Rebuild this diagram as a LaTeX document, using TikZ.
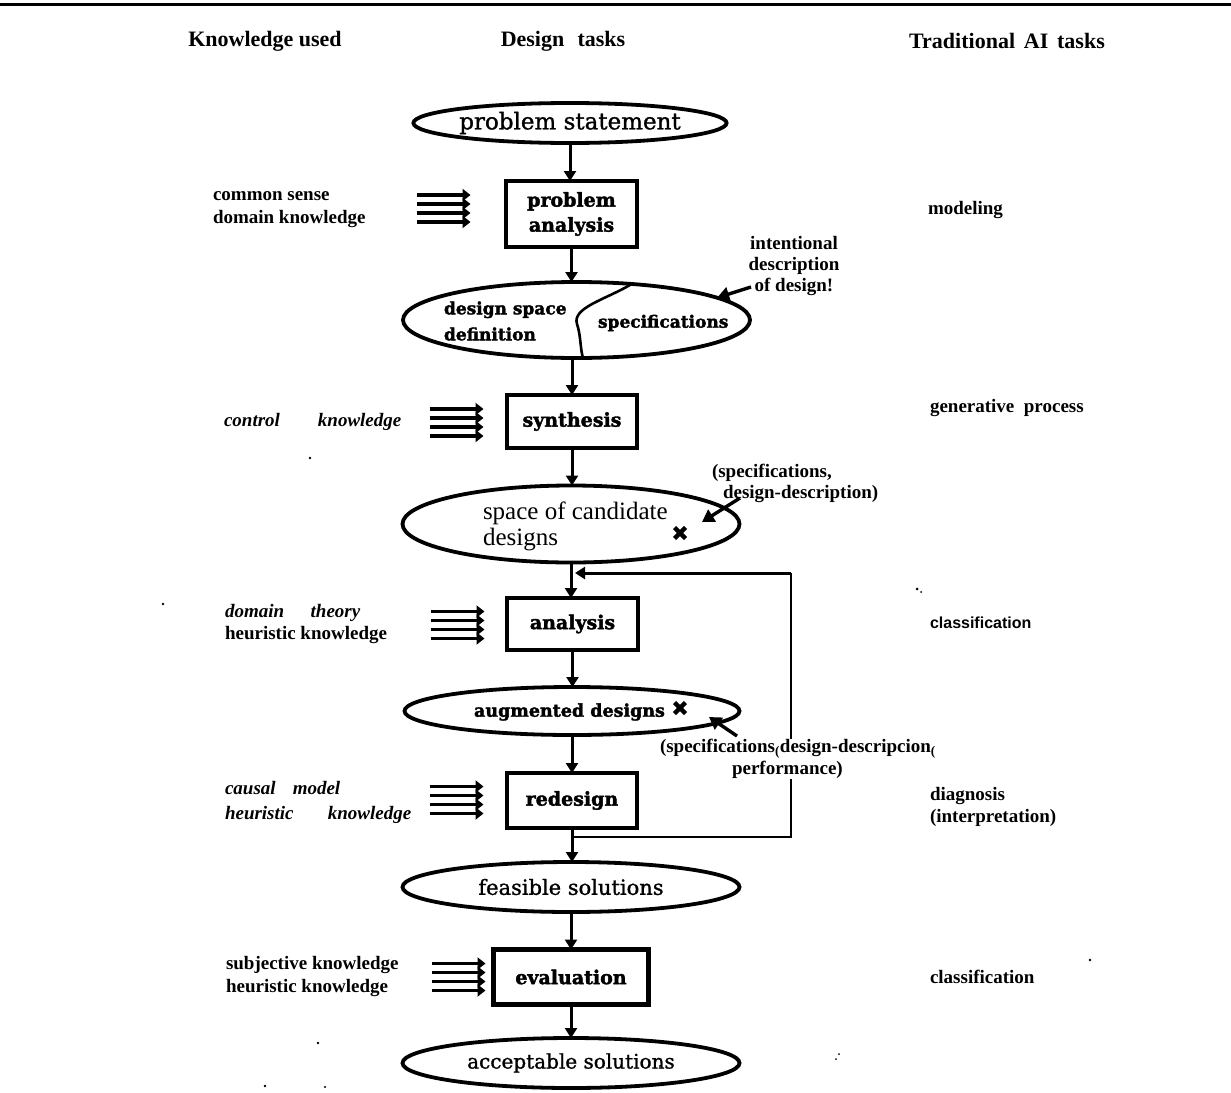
\documentclass[tikz,border=0pt]{standalone}
\usepackage{fontspec}
\setmainfont{Liberation Serif}
\newfontfamily\heavyfont{DejaVu Serif Bold}[FakeBold=2]
\newfontfamily\medfont{DejaVu Serif}[FakeBold=1.2]
\newfontfamily\sansfont{Liberation Sans}
\usetikzlibrary{shapes.geometric,arrows.meta,calc}

\begin{document}
\begin{tikzpicture}[x=1pt,y=-1pt,
  every node/.style={inner sep=0pt, outer sep=0pt},
  flow/.style={line width=3pt,-{Triangle[width=12pt,length=10pt]}},
  feed/.style={line width=2.8pt},
  annot/.style={line width=3.4pt,-{Triangle[width=14pt,length=12pt]}},
  taskbox/.style={draw, rectangle, line width=4.4pt, align=center,
    font=\heavyfont\fontsize{19}{25}\selectfont},
  state/.style={draw, ellipse, line width=3.8pt, align=center},
  statereg/.style={state, font=\medfont\fontsize{21}{24}\selectfont},
  statebold/.style={state, font=\heavyfont\fontsize{17.5}{22}\selectfont},
  hdr/.style={font=\bfseries\fontsize{22}{25}\selectfont},
  lbl/.style={font=\bfseries\fontsize{19}{23}\selectfont, align=left, anchor=west},
  note/.style={font=\bfseries\fontsize{19}{21}\selectfont},
  xmark/.style={minimum size=11pt},
  cross/.style={line width=4.4pt},
  speck/.style={fill=black, draw=none},
  feeds/.pic={
    \foreach \dy in {-13.5,-4.5,4.5,13.5}
      \draw[line width=3.2pt,-{Triangle[width=12pt,length=8pt]}] (-27,\dy) -- (27,\dy);
  }
]
\useasboundingbox (0,0) rectangle (1231,1092);

% top rule
\draw[line width=3pt] (0,4) -- (1231,4);

% column headings
\node[hdr] (hknow) at (265,41) {Knowledge used};
\node[hdr] (hdes)  at (563,41) {Design\hspace{0.6em}tasks};
\node[hdr] (htrad) at (1007,41) {Traditional\hspace{0.4em}AI\hspace{0.4em}tasks};

% design process column
\node[statereg, minimum width=259pt, minimum height=40pt, font=\medfont\fontsize{23}{26}\selectfont]
  (ps) at (570,123) {problem statement};
\node[taskbox, minimum width=131pt, minimum height=66pt] (pa) at (571.5,214) {problem\\analysis};
\node[state, minimum width=347pt, minimum height=76pt] (dss) at (576.5,320) {};
\node[taskbox, minimum width=130pt, minimum height=53pt] (syn) at (572,421.5) {synthesis};
\node[state, minimum width=337pt, minimum height=77pt] (cand) at (571,524) {};
\node[taskbox, minimum width=131pt, minimum height=52pt] (ana) at (572.5,624) {analysis};
\node[statebold, minimum width=335pt, minimum height=48pt] (aug) at (572,711) {};
\node[taskbox, minimum width=130pt, minimum height=55pt] (red) at (572,800.5) {redesign};
\node[statereg, minimum width=337pt, minimum height=50pt] (feas) at (571,887) {feasible solutions};
\node[taskbox, minimum width=155pt, minimum height=55pt] (eva) at (571,977) {evaluation};
\node[statereg, minimum width=337pt, minimum height=50pt, font=\medfont\fontsize{20}{24}\selectfont]
  (acc) at (571,1063) {acceptable solutions};

% split design space ellipse
\draw[line width=2.6pt] (630,285) .. controls (604,300) and (572,308) .. (577,324)
      .. controls (581,336) and (580,348) .. (583,358);
\node[font=\heavyfont\fontsize{17}{26}\selectfont, align=left, anchor=west]
  (dsd) at (444,321) {design space\\definition};
\node[font=\heavyfont\fontsize{17}{22}\selectfont, anchor=west]
  (spec) at (598,323) {specifications};

% candidate designs text
\node[font=\fontsize{25}{26}\selectfont, align=left, anchor=west] (candtxt) at (483,526)
  {space of candidate\\designs};

% augmented designs text
\node[font=\heavyfont\fontsize{17.5}{22}\selectfont] (augtxt) at (569.5,712) {augmented designs};

% main flow
\draw[flow] (ps.south) -- (ps.south |- pa.north);
\draw[flow] (pa.south) -- (pa.south |- dss.north);
\draw[flow] (syn.north |- dss.south) -- (syn.north);
\draw[flow] (syn.south) -- (syn.south |- cand.north);
\draw[flow] (cand.south) -- (cand.south |- ana.north);
\draw[flow] (ana.south) -- (ana.south |- aug.north);
\draw[flow] (aug.south) -- (aug.south |- red.north);
\draw[flow] (red.south) -- (red.south |- feas.north);
\draw[flow] (feas.south) -- (feas.south |- eva.north);
\draw[flow] (eva.south) -- (eva.south |- acc.north);

% feedback loop from redesign back to analysis
\coordinate (fbr) at (791,837);
\coordinate (fbt) at (791,573);
\draw[feed] (red.south |- fbr) -- (fbr) -- (fbt);
\draw[flow] (fbt) -- ([xshift=4pt]cand.south |- fbt);

% knowledge inputs
\pic at (443.5,208.5) {feeds};
\pic at (456.5,422.5) {feeds};
\pic at (457.5,625) {feeds};
\pic at (456.5,800) {feeds};
\pic at (458.5,977) {feeds};

% knowledge used
\node[lbl] (kpa) at (213,210) {common sense\\domain knowledge};
\node[lbl] (ksyn) at (224,422) {\itshape control\hspace{2em}knowledge};
\node[lbl, font=\bfseries\fontsize{19}{22}\selectfont] (kana) at (225,624)
  {\itshape domain\hspace{1.4em}theory\\heuristic knowledge};
\node[lbl, font=\bfseries\itshape\fontsize{19}{25}\selectfont] (kred) at (225,802)
  {causal\hspace{0.9em}model\\heuristic\hspace{1.8em}knowledge};
\node[lbl] (keva) at (226,976) {subjective knowledge\\heuristic knowledge};

% traditional AI tasks
\node[lbl] (tpa) at (928,210) {modeling};
\node[lbl] (tsyn) at (930,408) {generative\hspace{0.5em}process};
\node[lbl, font=\sansfont\bfseries\fontsize{16}{20}\selectfont] (tana) at (930,623) {classification};
\node[lbl, font=\bfseries\fontsize{19}{22}\selectfont] (tred) at (930,807) {diagnosis\\(interpretation)};
\node[lbl] (teva) at (930,977) {classification};

% design description notes
\node[note, align=center] (intent) at (794,266) {intentional\\description\\of design!};
\coordinate (is) at (751,287);
\draw[annot] (is) -- (dss.9);

\node[xmark] (xc) at (680,533) {};
\draw[cross] (xc.north west) -- (xc.south east) (xc.north east) -- (xc.south west);
\node[note, align=left, anchor=west] (candnote) at (712,483)
  {(specifications,\\\hspace*{11pt}design-description)};
\coordinate (cs) at (740,498);
\draw[annot] (cs) -- ($(xc)+(22,-11)$);

\node[xmark] (xa) at (680,708) {};
\draw[cross] (xa.north west) -- (xa.south east) (xa.north east) -- (xa.south west);
\coordinate (as) at (737,736);
\draw[annot] (as) -- ($(xa)+(29,9)$);
\node[note, align=left, anchor=west, fill=white, font=\bfseries\fontsize{19}{22}\selectfont]
  (augnote) at (660,759)
  {(specifications\textsubscript{(}design-descripcion\textsubscript{(}\\\hspace*{72pt}performance)};

% stray marks
\fill[speck] (310,458) circle (1.4pt);
\fill[speck] (163,604) circle (1.3pt);
\fill[speck] (917,589) circle (1.5pt);
\fill[speck] (921,592) circle (1pt);
\fill[speck] (1090,960) circle (1.4pt);
\fill[speck] (318,1043) circle (1.3pt);
\fill[speck] (265,1086) circle (1.4pt);
\fill[speck] (325,1087) circle (1.2pt);
\fill[speck] (839,1054) circle (1pt);
\fill[speck] (836,1059) circle (1pt);
\fill[speck] (660,1066) circle (1.1pt);
\end{tikzpicture}
\end{document}
